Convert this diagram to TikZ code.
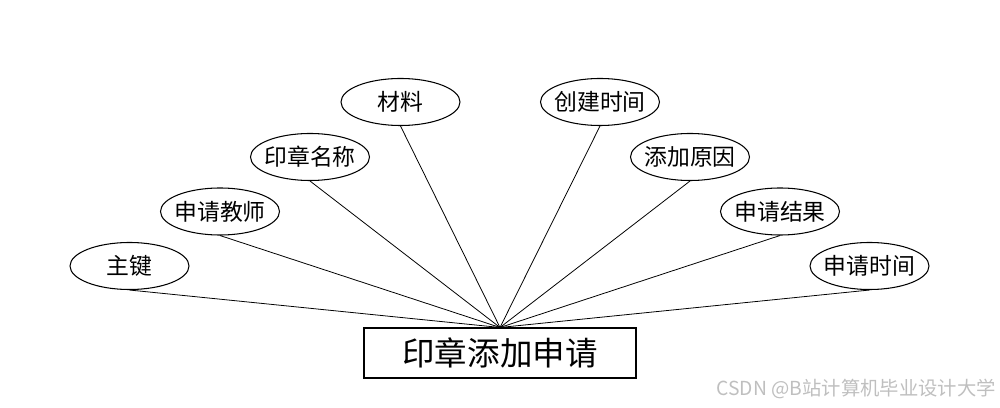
\documentclass[tikz,border=0pt]{standalone}
\usepackage{fontspec}
\setmainfont{Noto Sans CJK SC}
\newfontfamily\cjk{Noto Sans CJK SC}
\usetikzlibrary{shapes.geometric}
\begin{document}
\begin{tikzpicture}[x=0.02cm,y=-0.02cm,
  attr/.style={draw,ellipse,line width=0.6pt,minimum width=119*0.02cm,minimum height=47*0.02cm,inner xsep=-4pt,inner ysep=0pt,font=\cjk\fontsize{13}{15}\selectfont},
  ent/.style={draw,rectangle,line width=0.6pt,minimum width=272*0.02cm,minimum height=50*0.02cm,inner sep=0pt,font=\cjk\fontsize{18.5}{21}\selectfont},
  conn/.style={line width=0.45pt}]
\useasboundingbox (0,0) rectangle (1000,408);
\node[ent] (e) at (500,353) {印章添加申请};
\node[attr] (a1) at (129.5,266) {主键};
\node[attr] (a2) at (220,211.5) {申请教师};
\node[attr] (a3) at (310,157) {印章名称};
\node[attr] (a4) at (400.5,102) {材料};
\node[attr] (a5) at (600,102) {创建时间};
\node[attr] (a6) at (690,157) {添加原因};
\node[attr] (a7) at (780,211.5) {申请结果};
\node[attr] (a8) at (869.5,266) {申请时间};
\foreach \i in {1,...,8} \draw[conn] (a\i.south) -- (e.north);
\node[anchor=east,text=black!25,font=\cjk\fontsize{11}{13}\selectfont,inner sep=0pt] (wm) at (996,389) {CSDN @B站计算机毕业设计大学};
\end{tikzpicture}
\end{document}
